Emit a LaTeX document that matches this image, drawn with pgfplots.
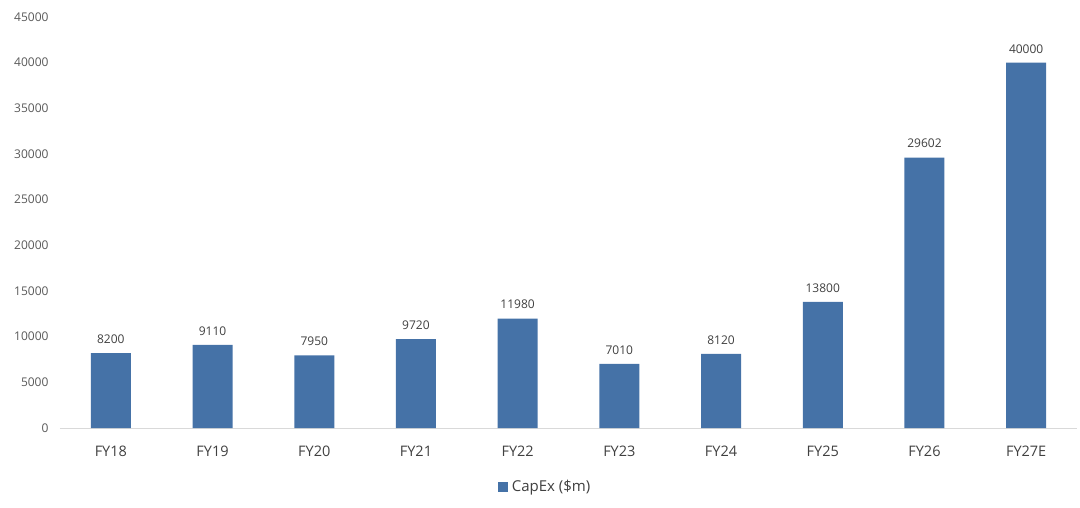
\documentclass[border=0pt]{standalone}
\usepackage{pgfplots}
\pgfplotsset{compat=1.18}
\usepackage{fontspec}
\setmainfont{Open Sans}
\definecolor{barblue}{RGB}{69,114,167}
\definecolor{ticktext}{RGB}{89,89,89}
\definecolor{labtext}{RGB}{64,64,64}
\definecolor{axisgray}{RGB}{217,217,217}
\begin{document}
\begin{tikzpicture}
\begin{axis}[
  at={(0pt,0pt)}, anchor=south west,
  scale only axis,
  width=1017pt, height=411pt,
  xmin=-0.5, xmax=9.5,
  ymin=0, ymax=45000,
  ytick={0,5000,...,45000},
  xtick={0,...,9},
  xticklabels={FY18,FY19,FY20,FY21,FY22,FY23,FY24,FY25,FY26,FY27E},
  axis x line*=bottom,
  axis y line*=left,
  x axis line style={draw=axisgray, line width=1pt, -},
  y axis line style={draw=none},
  ytick style={draw=none}, xtick style={draw=none},
  /pgf/number format/assume math mode=true,
  scaled y ticks=false,
  yticklabel style={font=\fontsize{12}{14}\selectfont, text=ticktext, /pgf/number format/1000 sep={}, xshift=-8pt},
  xticklabel style={font=\fontsize{14.5}{16}\selectfont, text=labtext, yshift=-10pt},
  ybar, bar width=40pt,
  nodes near coords,
  every node near coord/.append style={font=\fontsize{12}{14}\selectfont, text=labtext, yshift=6pt, /pgf/number format/1000 sep={}},
  legend style={at={(0.477,-0.1436)}, anchor=center, draw=none, font=\fontsize{15}{17}\selectfont, text=labtext},
  legend image code/.code={\fill[barblue] (0pt,-5pt) rectangle (10pt,5pt);},
  clip=false,
]
\addplot[fill=barblue, draw=none] coordinates {
(0,8200) (1,9110) (2,7950) (3,9720) (4,11980) (5,7010) (6,8120) (7,13800) (8,29602) (9,40000)
};
\addlegendentry{\hspace{2pt}CapEx (\$m)}
\end{axis}
\path (-60pt,-79pt) rectangle (1020pt,428pt);
\end{tikzpicture}
\end{document}
